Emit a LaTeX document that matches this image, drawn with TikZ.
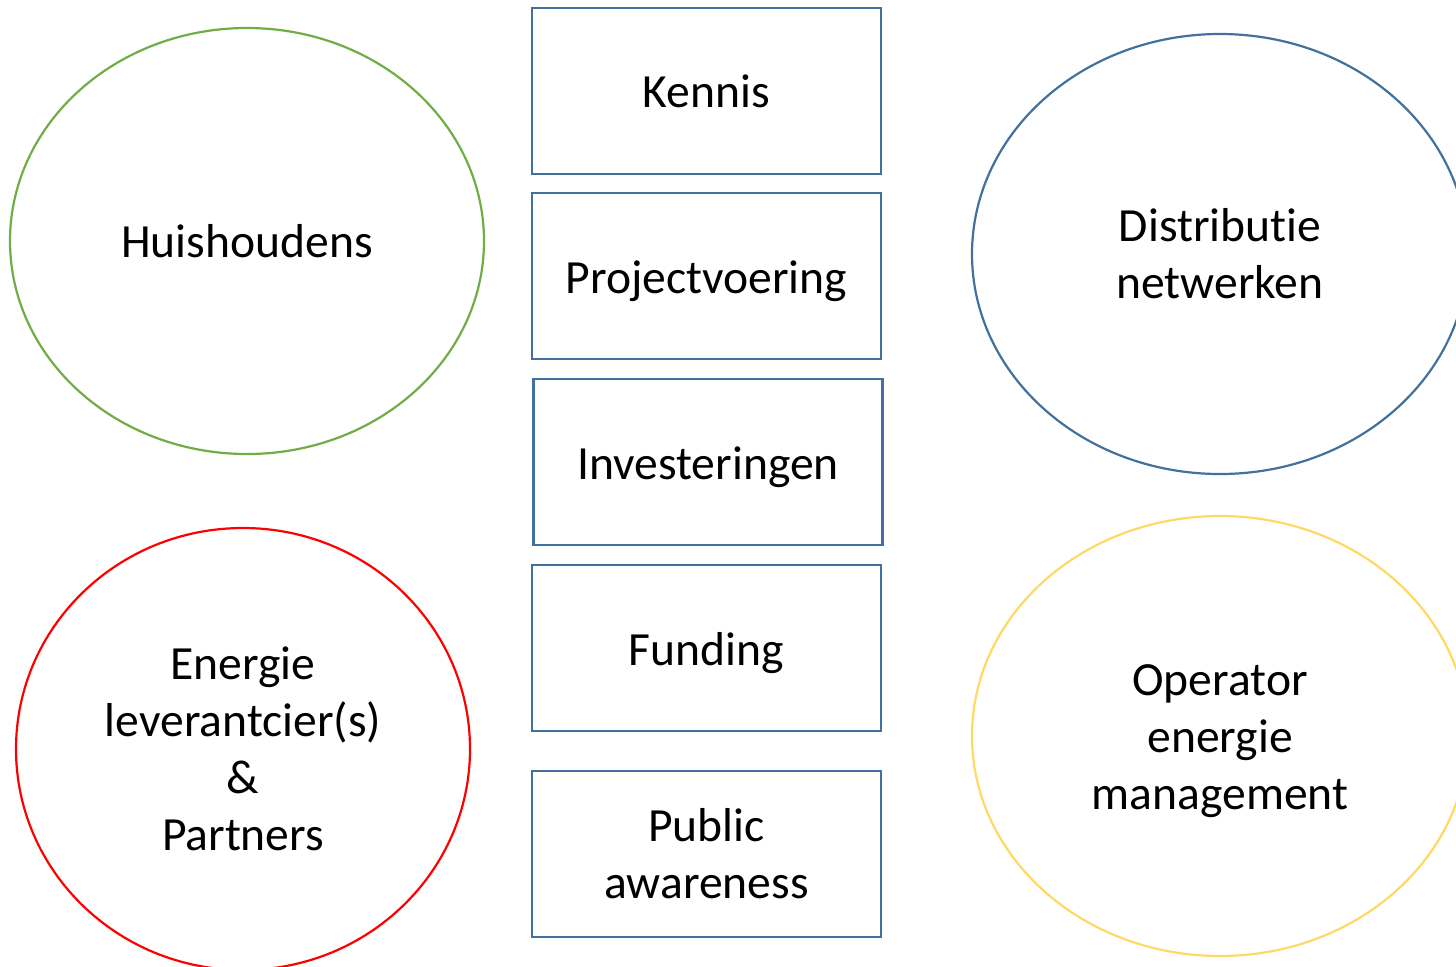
\documentclass[tikz,border=0pt]{standalone}
\usepackage{fontspec}
\setmainfont{Carlito}[Ligatures=NoCommon]
\usepackage{tikz}
\usetikzlibrary{shapes.geometric}

\definecolor{randblauw}{RGB}{65,113,156}
\definecolor{randgroen}{RGB}{112,173,71}
\definecolor{randrood}{RGB}{255,0,0}
\definecolor{randgeel}{RGB}{255,217,102}

\tikzset{
  tekst/.style={font=\fontsize{23.8pt}{28.5pt}\selectfont, align=center},
  blok/.style={tekst, draw=randblauw, line width=1.1pt, minimum width=174.5pt, minimum height=83pt, inner sep=0pt},
  ovaal/.style={tekst, ellipse, line width=1.1pt, inner sep=0pt}
}

\begin{document}
\begin{tikzpicture}[x=0.5pt,y=0.5pt,yscale=-1,xscale=1]
            \clip (0,0) rectangle (1456,966);

            % Ovalen links
            \draw (247,241) node [ovaal, draw=randgroen, minimum width=237pt, minimum height=213pt] (huis) {Huishoudens};
            \draw (243,749) node [ovaal, draw=randrood, minimum width=227pt, minimum height=221pt] (leverancier) {Energie\\leverantcier(s)\\\&\\Partners};

            % Blokken midden (tekst met staart iets omlaag)
            \draw (706.5,91) node [blok] (kennis) {Kennis};
            \draw (706.5,276) node [blok] (project) {};
            \draw (706.5,281) node [tekst] (projecttekst) {Projectvoering};
            \draw (708,462) node [blok] (invest) {};
            \draw (708,467) node [tekst] (investtekst) {Investeringen};
            \draw (706.5,648) node [blok] (funding) {};
            \draw (706.5,653) node [tekst] (fundingtekst) {Funding};
            \draw (706.5,854) node [blok] (publiek) {Public\\awareness};

            % Ovalen rechts
            \draw (1220,254) node [ovaal, draw=randblauw, minimum width=248pt, minimum height=220pt] (distributie) {Distributie\\netwerken};
            \draw (1220,736) node [ovaal, draw=randgeel, minimum width=248pt, minimum height=220pt] (operator) {};
            \draw (1220,741) node [tekst] (operatortekst) {Operator\\energie\\management};

\end{tikzpicture}
\end{document}
